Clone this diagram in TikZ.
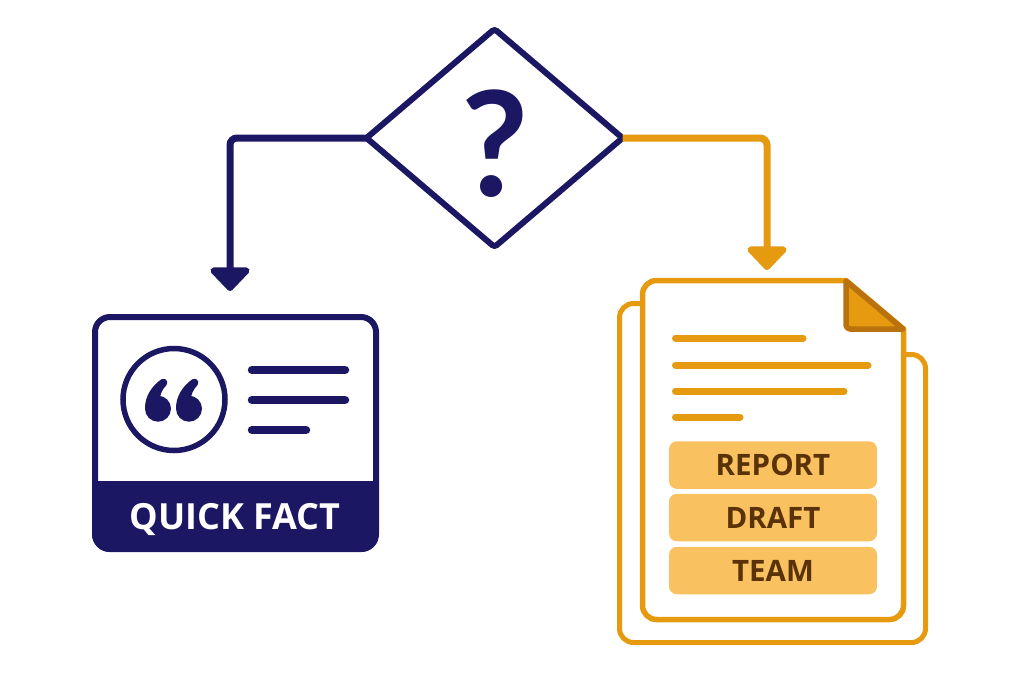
\documentclass[tikz,border=0pt]{standalone}
\usepackage{fontspec}
\setmainfont{Open Sans}
\newfontfamily\markfont{Lato}
\usetikzlibrary{arrows.meta, shapes.geometric}

\definecolor{navyink}{HTML}{1B1763}
\definecolor{amberink}{HTML}{E59A10}
\definecolor{amberdark}{HTML}{B9720E}
\definecolor{tagfill}{HTML}{F9C15F}
\definecolor{tagtext}{HTML}{5A3208}

\tikzset{
    flowline/.style={line width=7pt, rounded corners=7pt, -{Triangle[width=46pt, length=25pt, round]}},
    textline/.style={line width=#1, line cap=round},
    tagbox/.style={fill=tagfill, rounded corners=8pt, minimum width=208pt, minimum height=47.5pt, inner sep=0pt,
        text=tagtext, text height=21pt, text depth=0pt, font=\fontsize{29.5}{31}\selectfont\bfseries},
}

\begin{document}
\begin{tikzpicture}[x=1pt, y=-1pt]
    \useasboundingbox (0,0) rectangle (1024,683);

    % --- 判断のひし形 ---
    \node[diamond, draw=navyink, line width=6pt, rounded corners=3pt, aspect=1.17, inner sep=0pt, outer sep=0pt,
        minimum width=256pt, minimum height=218pt] (decision) at (494.5,138) {};
    \node[text=navyink, inner sep=0pt, text height=105pt, text depth=0pt,
        font=\markfont\fontsize{146}{146}\selectfont\bfseries] (qmark) at (495,143.5) {?};

    % --- 矢印の先端 ---
    \coordinate (cardin) at (230,291);
    \coordinate (docin) at (767,270);

    \draw[flowline, navyink] (decision.west) -| (cardin);
    \draw[flowline, amberink] (decision.east) -| (docin);

    % --- 左のカード ---
    \draw[navyink, line width=6pt, rounded corners=15pt, fill=white] (95,317) rectangle (376,549);
    \begin{scope}
        \clip[rounded corners=18pt] (92,314) rectangle (379,552);
        \fill[navyink] (92,481) rectangle (379,552);
    \end{scope}
    \node[text=white, inner sep=0pt, text height=26pt, text depth=0pt,
        font=\fontsize{36}{38}\selectfont\bfseries] (quickfact) at (235,516) {QUICK FACT};

    \draw[navyink, line width=5.5pt] (174,399.5) circle (51pt);
    % 引用符
    \foreach \dx in {0,31} {
        \fill[navyink, xshift=\dx pt] (158,408.7) circle (13pt);
        \fill[navyink, xshift=\dx pt] (145,408) .. controls (145,396) and (152,386) .. (161,379.5)
            .. controls (165,377) and (169,381) .. (166.5,385)
            .. controls (162,390) and (160,394) .. (160,400) -- cycle;
    }

    \foreach \y/\xend in {370/345, 400/345, 430/306} {
        \draw[navyink, textline=8.5pt] (252,\y) -- (\xend,\y);
    }

    % --- 右の書類 ---
    \draw[amberink, line width=5pt, rounded corners=14pt] (642,303.5) -- (619.5,303.5) -- (619.5,642.5)
        -- (925.5,642.5) -- (925.5,354.5) -- (903,354.5);
    \draw[amberink, line width=5.5pt, fill=white, rounded corners=14pt] (846,280.5) -- (642.5,280.5) -- (642.5,619.5)
        -- (903.5,619.5) [sharp corners] -- (903.5,329) -- cycle;
    \draw[amberdark, line width=5.5pt, fill=amberink, line join=round] (846,281) [rounded corners=4pt] -- (846,329) [sharp corners] -- (903,329) -- cycle;

    \foreach \y/\xend in {338/803, 365/868, 391/844, 417/740} {
        \draw[amberink, textline=7pt] (675.5,\y) -- (\xend,\y);
    }

    % --- ラベル ---
    \foreach \y/\tagname in {465/REPORT, 517.5/DRAFT, 570.5/TEAM} {
        \node[tagbox] (tag\tagname) at (773,\y) {\tagname};
    }
\end{tikzpicture}
\end{document}
